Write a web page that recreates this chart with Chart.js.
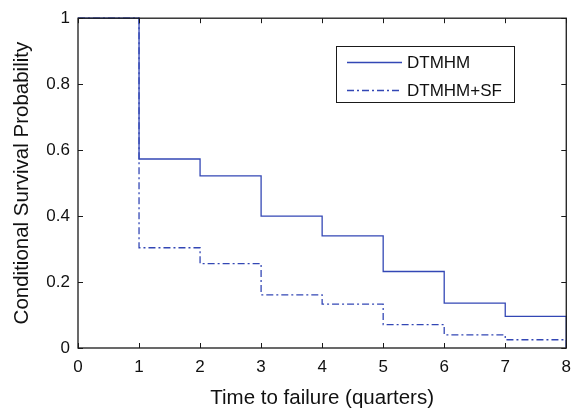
<!DOCTYPE html>
<html>
<head>
<meta charset="utf-8">
<script src="https://cdn.jsdelivr.net/npm/chart.js@4.4.1/dist/chart.umd.min.js"></script>
<style>
  html, body { margin: 0; padding: 0; background: #ffffff; }
  #wrap { width: 580px; height: 417px; }
</style>
</head>
<body>
<div id="wrap"><canvas id="c" width="580" height="417"></canvas></div>
<script>
// Survival curves over time to failure (quarters)
const quarters = [0, 1, 2, 3, 4, 5, 6, 7, 8];
const dtmhm   = [1, 0.573, 0.522, 0.400, 0.340, 0.232, 0.136, 0.096, 0];
const dtmhmSF = [1, 0.304, 0.256, 0.161, 0.133, 0.071, 0.040, 0.025, 0];
const seriesNames = ['DTMHM', 'DTMHM+SF'];
const xTickLabels = ['0', '1', '2', '3', '4', '5', '6', '7', '8'];
const yTickLabels = ['0', '0.2', '0.4', '0.6', '0.8', '1'];

const FONT = 'Liberation Sans, Arial, Helvetica, sans-serif';
const BLUE = '#3347b5';

function toPoints(ys) {
  return quarters.map((q, i) => ({ x: q, y: ys[i] }));
}

// Box frame with inward ticks on all four sides, plus the legend box
const framePlugin = {
  id: 'frame',
  afterDraw(chart) {
    const { ctx, chartArea: a, scales } = chart;
    const t = 5;
    ctx.save();
    ctx.strokeStyle = '#1a1a1a';
    ctx.lineWidth = 1.3;
    ctx.strokeRect(a.left, a.top, a.right - a.left, a.bottom - a.top);
    ctx.lineWidth = 1;
    ctx.beginPath();
    scales.x.ticks.forEach(tk => {
      const px = Math.round(scales.x.getPixelForValue(tk.value)) + 0.5;
      ctx.moveTo(px, a.bottom); ctx.lineTo(px, a.bottom - t);
      ctx.moveTo(px, a.top); ctx.lineTo(px, a.top + t);
    });
    scales.y.ticks.forEach(tk => {
      const py = Math.round(scales.y.getPixelForValue(tk.value)) + 0.5;
      ctx.moveTo(a.left, py); ctx.lineTo(a.left + t, py);
      ctx.moveTo(a.right, py); ctx.lineTo(a.right - t, py);
    });
    ctx.stroke();

    // legend
    const bx = 336, by = 46, bw = 178, bh = 56;
    ctx.fillStyle = '#ffffff';
    ctx.fillRect(bx, by, bw, bh);
    ctx.strokeStyle = '#1a1a1a';
    ctx.lineWidth = 1;
    ctx.strokeRect(bx + 0.5, by + 0.5, bw, bh);
    const rows = [62.5, 90.5];
    chart.data.datasets.forEach((ds, i) => {
      ctx.strokeStyle = ds.borderColor;
      ctx.lineWidth = ds.borderWidth;
      ctx.setLineDash(ds.borderDash || []);
      ctx.beginPath();
      ctx.moveTo(347, rows[i]);
      ctx.lineTo(402, rows[i]);
      ctx.stroke();
      ctx.setLineDash([]);
      ctx.fillStyle = '#111111';
      ctx.font = '17px ' + FONT;
      ctx.textBaseline = 'middle';
      ctx.textAlign = 'left';
      ctx.fillText(ds.label, 407, rows[i] + 1);
    });
    ctx.restore();
  }
};

new Chart(document.getElementById('c'), {
  type: 'line',
  data: {
    datasets: [
      {
        label: seriesNames[0],
        data: toPoints(dtmhm),
        stepped: 'before',
        borderColor: BLUE,
        borderWidth: 1.3,
        pointRadius: 0,
        fill: false
      },
      {
        label: seriesNames[1],
        data: toPoints(dtmhmSF),
        stepped: 'before',
        borderColor: BLUE,
        borderWidth: 1.3,
        borderDash: [7, 3, 2, 3],
        pointRadius: 0,
        fill: false
      }
    ]
  },
  options: {
    responsive: false,
    animation: false,
    clip: 3,
    layout: { padding: { left: 0, right: 10, top: 12, bottom: 0 } },
    plugins: {
      legend: { display: false },
      tooltip: { enabled: false }
    },
    scales: {
      x: {
        type: 'linear',
        min: 0,
        max: 8,
        afterFit(s) { s.height = 69; },
        afterBuildTicks(s) { s.ticks = quarters.map(v => ({ value: v })); },
        grid: { display: false, drawTicks: false },
        border: { display: false },
        ticks: {
          padding: 9,
          color: '#111111',
          font: { family: FONT, size: 17 },
          callback: (v, i) => xTickLabels[i]
        },
        title: {
          display: true,
          text: 'Time to failure (quarters)',
          color: '#111111',
          font: { family: FONT, size: 20.5 },
          padding: { top: 0, bottom: 6 }
        }
      },
      y: {
        type: 'linear',
        min: 0,
        max: 1,
        afterFit(s) { s.width = 78; },
        afterBuildTicks(s) { s.ticks = yTickLabels.map(v => ({ value: parseFloat(v) })); },
        grid: { display: false, drawTicks: false },
        border: { display: false },
        ticks: {
          padding: 8,
          color: '#111111',
          font: { family: FONT, size: 17 },
          callback: (v, i) => yTickLabels[i]
        },
        title: {
          display: true,
          text: 'Conditional Survival Probability',
          color: '#111111',
          font: { family: FONT, size: 20.5 },
          padding: { top: 10, bottom: 0 }
        }
      }
    }
  },
  plugins: [framePlugin]
});
</script>
</body>
</html>
